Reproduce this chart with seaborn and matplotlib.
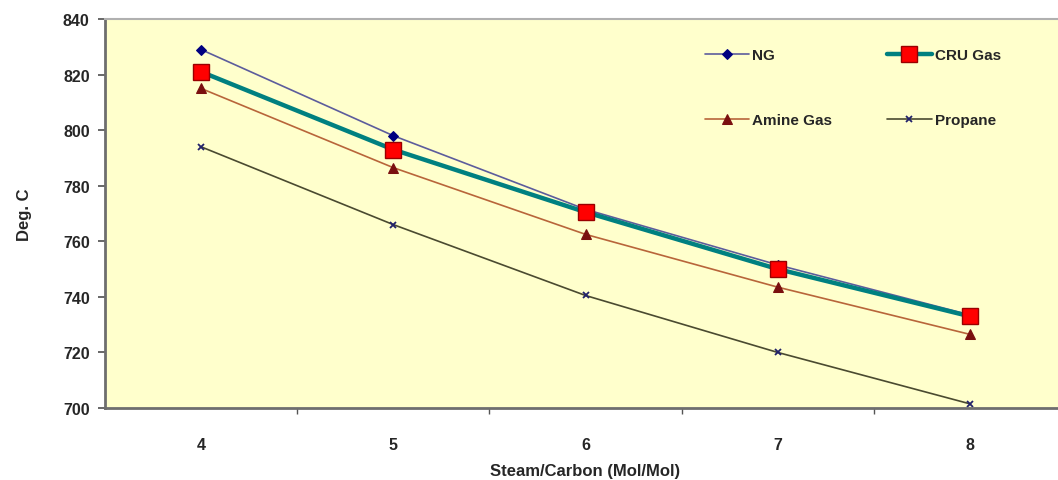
import numpy as np
import matplotlib
matplotlib.use("Agg")
import matplotlib.pyplot as plt
import seaborn as sns

steam_carbon = [4, 5, 6, 7, 8]
ng = [829, 798, 771.5, 751.5, 733.5]
cru_gas = [821, 793, 770.5, 750, 733]
amine_gas = [815, 786.5, 762.5, 743.5, 726.5]
propane = [794, 766, 740.5, 720, 701.5]

y_ticks = [700, 720, 740, 760, 780, 800, 820, 840]

sns.set_theme(style="white")
plt.rcParams["font.family"] = ["Liberation Sans", "DejaVu Sans"]
plt.rcParams["font.weight"] = "bold"

fig = plt.figure(figsize=(10.58, 4.81), dpi=100)
ax = fig.add_axes([105 / 1058, 72 / 481, 961 / 1058, 389 / 481])
ax.set_facecolor("#FFFFCC")

sns.lineplot(x=steam_carbon, y=ng, ax=ax, color="#5C5C9C", lw=1.2,
             marker="D", markersize=5, markerfacecolor="#000080",
             markeredgecolor="#000080", label="NG")
sns.lineplot(x=steam_carbon, y=cru_gas, ax=ax, color="#008080", lw=3.2,
             marker="s", markersize=12, markerfacecolor="#FF0000",
             markeredgecolor="#990000", markeredgewidth=1, label="CRU Gas")
sns.lineplot(x=steam_carbon, y=amine_gas, ax=ax, color="#B8653A", lw=1.2,
             marker="^", markersize=7, markerfacecolor="#7A0F0F",
             markeredgecolor="#7A0F0F", label="Amine Gas")
sns.lineplot(x=steam_carbon, y=propane, ax=ax, color="#4A4A30", lw=1.2,
             marker="x", markersize=5, markeredgecolor="#22226A",
             markeredgewidth=1.3, label="Propane")

ax.set_xlim(3.5, 8.5)
ax.set_ylim(700, 840)
ax.set_yticks(y_ticks)
ax.set_xticks(steam_carbon)
ax.set_xticks([4.5, 5.5, 6.5, 7.5], minor=True)
ax.tick_params(axis="x", which="major", length=0, pad=21, labelsize=11.5)
ax.tick_params(axis="x", which="minor", length=4, direction="out", color="#555555", bottom=True)
ax.tick_params(axis="y", which="major", length=5, direction="out", color="#555555", left=True, labelsize=11.5, pad=6)

for side in ["left", "bottom"]:
    ax.spines[side].set_color("#6E6E6E")
    ax.spines[side].set_linewidth(2)
ax.spines["top"].set_color("#B0B0B0")
ax.spines["top"].set_linewidth(1.5)
ax.spines["right"].set_visible(False)

ax.set_xlabel("Steam/Carbon (Mol/Mol)", fontsize=12, fontweight="bold", labelpad=8)
ax.set_ylabel("Deg. C", fontsize=12, fontweight="bold", labelpad=22)

# legend filled row by row: NG, CRU Gas / Amine Gas, Propane
handles, labels = ax.get_legend_handles_labels()
order = [0, 2, 1, 3]
ax.legend([handles[i] for i in order], [labels[i] for i in order],
          loc="upper left", bbox_to_anchor=(0.61, 0.96), ncol=2, frameon=False,
          fontsize=11, labelspacing=3.35, columnspacing=3.6, handlelength=2.9,
          handletextpad=0.2)

plt.savefig("out.png", dpi=100)
